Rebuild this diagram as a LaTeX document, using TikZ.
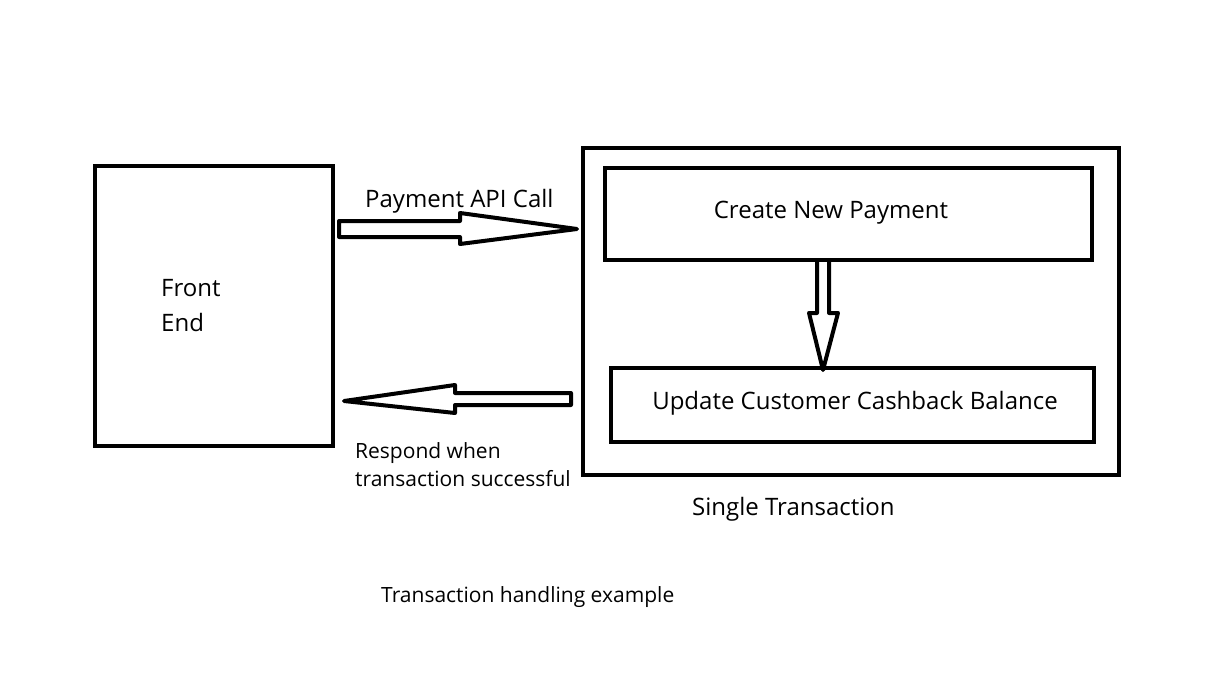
\documentclass[tikz,border=0pt]{standalone}
\usepackage{fontspec}
\setmainfont{Open Sans}
\begin{document}
\begin{tikzpicture}[x=1pt,y=-1pt,
  box/.style={draw,line width=4pt,inner sep=0pt},
  blk/.style={draw,line width=4pt,line join=round,fill=white},
  lbl/.style={font=\fontsize{24}{28}\selectfont,inner sep=0pt,anchor=west},
  sml/.style={font=\fontsize{21}{28}\selectfont,inner sep=0pt,anchor=west,align=left}]
\useasboundingbox (0,0) rectangle (1211,677);
% boxes
\node[box,minimum width=238pt,minimum height=280pt] (fe) at (214,306) {};
\node[box,minimum width=536pt,minimum height=327pt] (tx) at (851,311.5) {};
\node[box,minimum width=487pt,minimum height=92pt] (cp) at (848.5,214) {};
\node[box,minimum width=483pt,minimum height=74pt] (up) at (852.5,405) {};
% texts
\node[lbl] (fet1) at (161,288) {Front};
\node[lbl] (fet2) at (161,322) {End};
\node[lbl,anchor=center] (cpt) at (831,213) {Create New Payment};
\node[lbl,anchor=center] (upt) at (855,403) {Update Customer Cashback Balance};
\node[lbl] (api) at (365,201) {Payment API Call};
\node[sml,anchor=west] (resp) at (355,465) {Respond when\\transaction successful};
\node[lbl] (single) at (692,509) {Single Transaction};
\node[sml] (cap) at (381,597) {Transaction handling example};
% block arrows
\draw[blk] ([xshift=4pt]fe.east |- 0,221) -- (460,221) -- (460,213) -- ([xshift=-4pt]tx.west |- 0,229)
  -- (460,244) -- (460,237) -- ([xshift=4pt]fe.east |- 0,237) -- cycle;
\draw[blk] ([xshift=-10pt]tx.west |- 0,393) -- (455,393) -- (455,385) -- ([xshift=9pt]fe.east |- 0,401)
  -- (455,413) -- (455,405) -- ([xshift=-10pt]tx.west |- 0,405) -- cycle;
\draw[blk] (817,262) -- (817,313) -- (809,313) -- (823,370) -- (838,313) -- (829,313) -- (829,262);
\end{tikzpicture}
\end{document}
